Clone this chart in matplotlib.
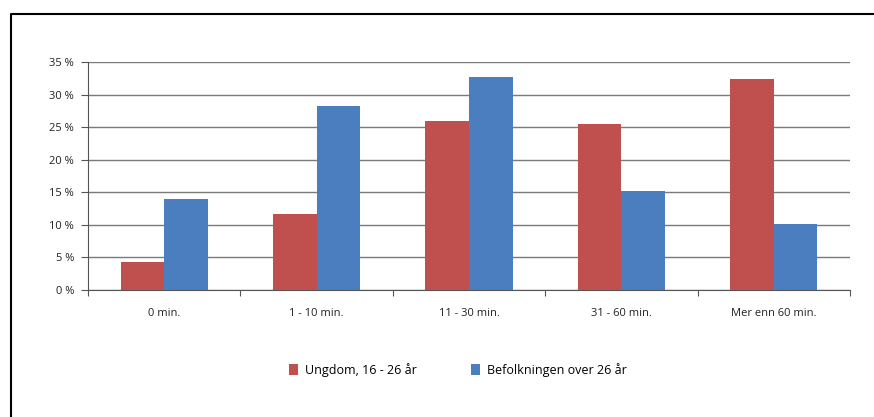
import matplotlib
matplotlib.use("Agg")
import matplotlib.pyplot as plt
import numpy as np
from matplotlib.lines import Line2D

categories = ["0 min.", "1 - 10 min.", "11 - 30 min.", "31 - 60 min.", "Mer enn 60 min."]
ungdom = [4.3, 11.7, 26.0, 25.5, 32.4]
befolkning = [13.9, 28.3, 32.7, 15.1, 10.1]
series_names = ["Ungdom, 16 - 26 år", "Befolkningen over 26 år"]
yticks = [0, 5, 10, 15, 20, 25, 30, 35]

plt.rcParams['font.family'] = ['Open Sans', 'DejaVu Sans']

W, H = 874, 417
fig = plt.figure(figsize=(W/100, H/100), dpi=100)
ax = fig.add_axes([88/W, 1-289.5/H, (850-88)/W, (289.5-62.3)/H])

x = np.arange(len(categories))
bw = 0.286
red = "#C0504D"
blue = "#4A7EBF"
ax.bar(x - bw/2, ungdom, bw, color=red, zorder=3, label=series_names[0])
ax.bar(x + bw/2, befolkning, bw, color=blue, zorder=3, label=series_names[1])

ax.set_xlim(-0.5, len(categories)-0.5)
ax.set_ylim(0, 35)
ax.set_yticks(yticks)
ax.set_yticklabels([f"{v} %" for v in yticks], fontsize=8, color="#222222")
ax.yaxis.grid(True, color="#7a7a7a", linewidth=1.0, zorder=0)
ax.set_axisbelow(True)

ax.set_xticks(np.arange(-0.5, len(categories)), minor=False)
ax.set_xticklabels([])
ax.set_xticks(x, minor=True)
ax.set_xticklabels(categories, minor=True, fontsize=8, color="#222222")
ax.tick_params(axis='x', which='minor', length=0, pad=13)
ax.tick_params(axis='x', which='major', length=4, width=0.8, color="#555555", direction='out')
ax.tick_params(axis='y', length=5, width=0.8, color="#555555", direction='out', pad=5)

for s in ['top', 'right']:
    ax.spines[s].set_visible(False)
ax.spines['left'].set_color("#555555")
ax.spines['bottom'].set_color("#555555")
ax.spines['left'].set_linewidth(0.8)
ax.spines['bottom'].set_linewidth(0.8)

leg = fig.legend(loc='center', bbox_to_anchor=(458/W, 1-370/H), ncol=2, frameon=False,
                 fontsize=9, handlelength=0.7, handleheight=0.9, columnspacing=4.3, handletextpad=0.6)

# figure frame (left and top edges)
fig.add_artist(Line2D([10.5/W, 10.5/W, 1.0], [0, 1-14/H, 1-14/H], transform=fig.transFigure,
                      color="black", linewidth=1.5))

fig.savefig("out.png", dpi=100)
